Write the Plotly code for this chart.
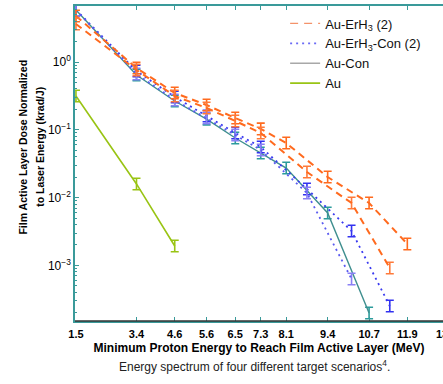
import numpy as np
import plotly.graph_objects as go

# ---- data ----
x_std = [1.5, 3.4, 4.6, 5.6, 6.5, 7.3, 8.1, 9.4, 10.7, 11.9]
x_alt = [1.5, 3.4, 4.6, 5.6, 6.5, 7.3, 8.75, 10.15, 11.35]

erh3_a = [4.77, 0.815, 0.349, 0.232, 0.149, 0.103, 0.0638, 0.0201, 0.00832, 0.00207]
erh3_b = [3.63, 0.762, 0.315, 0.210, 0.135, 0.0897, 0.0239, 0.00832, 0.000916]
erh3con_a = [5.85, 0.737, 0.305, 0.160, 0.0897, 0.0557, 0.0134, 0.00322, 0.000252]
erh3con_b = [5.85, 0.665, 0.275, 0.149, 0.0838, 0.0504, 0.0117, 0.000630]
x_con = [1.5, 3.4, 4.6, 5.6, 6.5, 7.3, 8.1, 9.4, 10.7]
au_con = [5.85, 0.643, 0.266, 0.144, 0.0757, 0.0455, 0.0273, 0.00593, 0.000199]
x_au = [1.5, 3.4, 4.6]
au = [0.315, 0.0159, 0.00193]

err_dec = 0.085  # half-height of error bars, in decades

tick_vals = [1.5, 3.4, 4.6, 5.6, 6.5, 7.3, 8.1, 9.4, 10.7, 11.9]
tick_text = ["1.5", "3.4", "4.6", "5.6", "6.5", "7.3", "8.1", "9.4", "10.7", "11.9"]
edge_tick = 13
y_tick_vals = [1, 0.1, 0.01, 0.001]
y_tick_text = ["10<sup>0</sup>", "10<sup>\u22121</sup>", "10<sup>\u22122</sup>", "10<sup>\u22123</sup>"]

FONT = "Liberation Sans, Arial, Helvetica, sans-serif"
TEAL = "#3a9a9a"


def err(vals):
    v = np.array(vals, dtype=float)
    return dict(type="data", symmetric=False,
                array=v * (10 ** err_dec - 1), arrayminus=v * (1 - 10 ** -err_dec))


fig = go.Figure()


def add(x, y, color, dash, width, ecolor):
    e = err(y)
    e.update(color=ecolor, thickness=1.6, width=4)
    fig.add_trace(go.Scatter(x=x, y=y, mode="lines", showlegend=False,
                             line=dict(color=color, dash=dash, width=width),
                             error_y=e))


add(x_au, au, "#99c414", "solid", 1.6, "#99c414")
add(x_con, au_con, "#3f8f8f", "solid", 1.4, "#2c9c9c")
add(x_alt, erh3con_a, "#3a3af0", "2px,4px", 1.8, "#3232f0")
add(x_alt[:len(erh3con_b)], erh3con_b, "#5a5af0", "2px,4px", 1.8, "#8a80f5")
add(x_std, erh3_a, "#ff6a1e", "7px,5px", 2, "#ff6a1e")
add(x_alt, erh3_b, "#ff6a1e", "7px,5px", 2, "#ff7a3a")

# legend entries
leg = [
    ("Au-ErH<sub>3</sub> (2)", "#f4926a", "8px,6px", 1.2),
    ("Au-ErH<sub>3</sub>-Con (2)", "#6a6af5", "2px,4px", 1.6),
    ("Au-Con", "#a8a8a8", "solid", 1.5),
    ("Au", "#99c414", "solid", 1.8),
]
for name, c, d, w in leg:
    fig.add_trace(go.Scatter(x=[None], y=[None], mode="lines", name=name,
                             line=dict(color=c, dash=d, width=w)))

fig.add_shape(type="line", xref="paper", yref="paper", x0=0, x1=1, y0=0, y1=0,
              line=dict(color="#333333", width=1.5))

# tick label at the right edge (clipped by the page, as in the source)
fig.add_annotation(text="<b>%g</b>" % edge_tick, xref="x", yref="paper", x=edge_tick, y=0,
                   yshift=-5, showarrow=False, xanchor="center", yanchor="top",
                   font=dict(family=FONT, size=11, color="black"))

# y-axis title (two lines)
fig.add_annotation(text="<b>Film Active Layer Dose Normalized</b>", xref="paper", yref="paper",
                   x=-0.142, y=0.553, textangle=-90, showarrow=False,
                   xanchor="center", yanchor="middle",
                   font=dict(family=FONT, size=10.5, color="black"))
fig.add_annotation(text="<b>to Laser Energy (krad/J)</b>", xref="paper", yref="paper",
                   x=-0.095, y=0.553, textangle=-90, showarrow=False,
                   xanchor="center", yanchor="middle",
                   font=dict(family=FONT, size=10.5, color="black"))

fig.add_annotation(text="Energy spectrum of four different target scenarios<sup>4</sup>.",
                   xref="paper", yref="paper", x=0.489, y=-0.143, showarrow=False,
                   xanchor="center", yanchor="middle",
                   font=dict(family=FONT, size=12, color="#222222"))

fig.update_layout(
    width=443, height=384,
    margin=dict(l=75, r=0, t=6, b=63, autoexpand=False),
    paper_bgcolor="white", plot_bgcolor="white",
    font=dict(family=FONT, size=12, color="black"),
    legend=dict(x=0.571, y=0.992, xanchor="left", yanchor="top",
                bgcolor="rgba(0,0,0,0)", font=dict(family=FONT, size=13, color="#111111"),
                tracegroupgap=0),
    xaxis=dict(range=[1.47, 13.02], tickvals=tick_vals, ticktext=tick_text, automargin=False,
               ticks="inside", ticklen=4, tickcolor=TEAL, showgrid=False, zeroline=False,
               showline=True, linecolor=TEAL, linewidth=1.5, mirror="ticks",
               ticklabelstandoff=2,
               tickfont=dict(family=FONT, size=11, color="black", weight="bold"),
               title=dict(text="<b>Minimum Proton Energy to Reach Film Active Layer (MeV)</b>",
                          font=dict(family=FONT, size=12, color="black"), standoff=5)),
    yaxis=dict(type="log", range=[-3.82, 0.826], tickvals=y_tick_vals, ticktext=y_tick_text,
               automargin=False,
               ticks="inside", ticklen=4, tickcolor=TEAL, showgrid=False, zeroline=False,
               showline=True, linecolor=TEAL, linewidth=1.5,
               minor=dict(dtick="D1", ticks="inside", ticklen=2, tickcolor=TEAL, showgrid=False),
               tickfont=dict(family=FONT, size=12, color="black")),
)

fig.write_html("out.html", config={"displayModeBar": False})

# remove the browser's default page margin so the figure sits at the top-left corner
with open("out.html", "r", encoding="utf-8") as f:
    html = f.read()
html = html.replace("<body>", '<body style="margin:0;padding:0;overflow:hidden">', 1)
with open("out.html", "w", encoding="utf-8") as f:
    f.write(html)
